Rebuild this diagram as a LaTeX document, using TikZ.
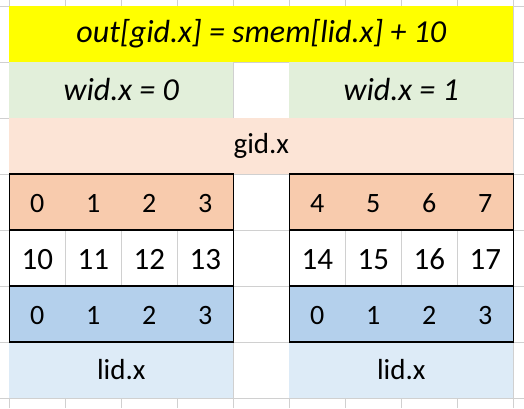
\documentclass[tikz,border=0pt]{standalone}
\usepackage{fontspec}
\setmainfont{Carlito}
\usetikzlibrary{positioning}
\definecolor{titleyellow}{HTML}{FFFF00}
\definecolor{warpgreen}{HTML}{E2EFDA}
\definecolor{gidpeach}{HTML}{FCE4D6}
\definecolor{gidorange}{HTML}{F8CBAD}
\definecolor{lidblue}{HTML}{B4D0EC}
\definecolor{lidpale}{HTML}{DDEBF7}
\definecolor{sheetgray}{HTML}{D0D0D0}
\tikzset{
  cell/.style={minimum width=56pt, minimum height=56pt, inner sep=0pt, outer sep=0pt},
  wide/.style={cell, minimum width=224pt},
  full/.style={cell, minimum width=504pt},
  bigtext/.style={font=\fontsize{32}{34}\selectfont},
  numtext/.style={font=\fontsize{31}{33}\selectfont, text height=23.5pt, text depth=0pt},
  midtext/.style={font=\fontsize{29}{31}\selectfont},
  idtext/.style={font=\fontsize{28}{30}\selectfont, text height=20.6pt, text depth=0pt},
  gridline/.style={draw=sheetgray, line width=0.7pt},
  block/.style={draw=black, line width=1.1pt}
}
\begin{document}
\begin{tikzpicture}[node distance=56pt]
    \useasboundingbox (0,0) rectangle (524pt,408pt);
    % Spreadsheet grid
    \draw[gridline, step=56pt, shift={(9.3pt,10pt)}] (-9.3pt,-10pt) grid (514.7pt,398pt);
    % Header rows
    \node[full, fill=titleyellow, bigtext] (title) at (261.3pt,374pt) {\itshape out[gid.x] = smem[lid.x] + 10};
    \node[wide, fill=warpgreen, bigtext] (wid0) at (121.3pt,318pt) {\itshape wid.x = 0};
    \node[wide, fill=warpgreen, bigtext, right of=wid0, node distance=280pt] (wid1) {\itshape wid.x = 1};
    \node[full, fill=gidpeach, midtext] (gid) at (261.3pt,262pt) {gid.x};
    % Global ids
    \node[cell, fill=gidorange, idtext] (g0) at (37.3pt,206pt) {0};
    \node[cell, fill=gidorange, idtext, right of=g0] (g1) {1};
    \node[cell, fill=gidorange, idtext, right of=g1] (g2) {2};
    \node[cell, fill=gidorange, idtext, right of=g2] (g3) {3};
    \node[cell, fill=gidorange, idtext, right of=g3, node distance=112pt] (g4) {4};
    \node[cell, fill=gidorange, idtext, right of=g4] (g5) {5};
    \node[cell, fill=gidorange, idtext, right of=g5] (g6) {6};
    \node[cell, fill=gidorange, idtext, right of=g6] (g7) {7};
    % Output values
    \node[cell, numtext, below of=g0] (v0) {10};
    \node[cell, numtext, below of=g1] (v1) {11};
    \node[cell, numtext, below of=g2] (v2) {12};
    \node[cell, numtext, below of=g3] (v3) {13};
    \node[cell, numtext, below of=g4] (v4) {14};
    \node[cell, numtext, below of=g5] (v5) {15};
    \node[cell, numtext, below of=g6] (v6) {16};
    \node[cell, numtext, below of=g7] (v7) {17};
    % Local ids
    \node[cell, fill=lidblue, idtext, below of=v0] (l0) {0};
    \node[cell, fill=lidblue, idtext, below of=v1] (l1) {1};
    \node[cell, fill=lidblue, idtext, below of=v2] (l2) {2};
    \node[cell, fill=lidblue, idtext, below of=v3] (l3) {3};
    \node[cell, fill=lidblue, idtext, below of=v4] (l4) {0};
    \node[cell, fill=lidblue, idtext, below of=v5] (l5) {1};
    \node[cell, fill=lidblue, idtext, below of=v6] (l6) {2};
    \node[cell, fill=lidblue, idtext, below of=v7] (l7) {3};
    \node[wide, fill=lidpale, midtext] (lid0) at (121.3pt,38pt) {lid.x};
    \node[wide, fill=lidpale, midtext, right of=lid0, node distance=280pt] (lid1) {lid.x};
    % Borders
    \draw[block] (g0.north west) rectangle (g3.south east);
    \draw[block] (g4.north west) rectangle (g7.south east);
    \draw[block] (v0.north west) rectangle (v3.south east);
    \draw[block] (v4.north west) rectangle (v7.south east);
    \draw[block] (l0.north west) rectangle (l3.south east);
    \draw[block] (l4.north west) rectangle (l7.south east);
\end{tikzpicture}
\end{document}
